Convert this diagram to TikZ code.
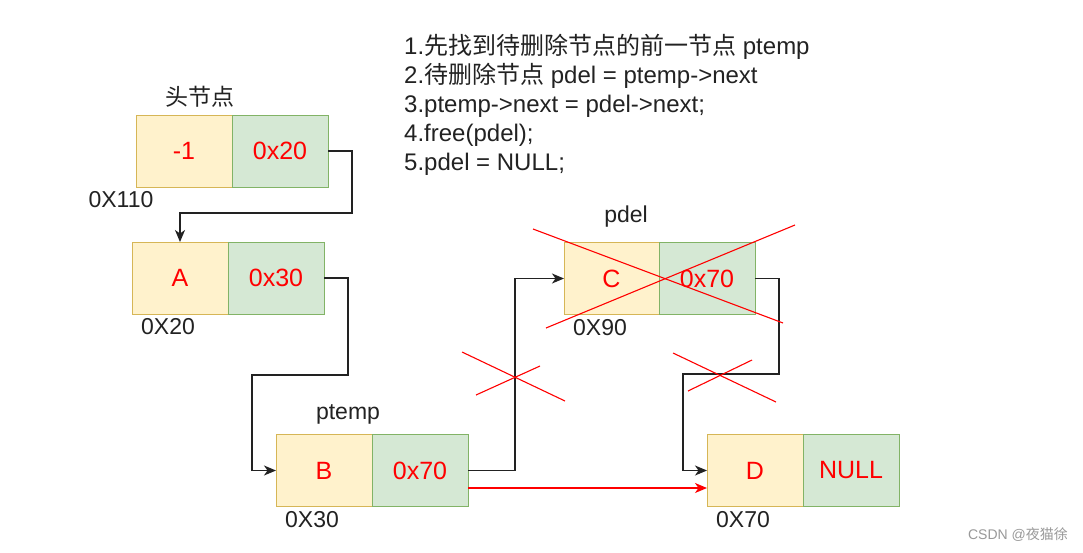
\documentclass[tikz,border=0pt]{standalone}
\usepackage{fontspec}
\setmainfont{Liberation Sans}
\newfontfamily\cjk{Noto Sans CJK SC}
\usetikzlibrary{arrows.meta,calc}
\definecolor{yfill}{HTML}{FFF2CC}
\definecolor{ystroke}{HTML}{D6B656}
\definecolor{gfill}{HTML}{D5E8D4}
\definecolor{gstroke}{HTML}{82B366}
\definecolor{ink}{HTML}{222222}
\begin{document}
\begin{tikzpicture}[x=1pt,y=-1pt,
  cellbase/.style={draw, minimum width=96pt, minimum height=72pt, inner sep=0pt, outer sep=0pt, line width=1pt, font=\fontsize{25}{30}\selectfont, text=red},
  val/.style={cellbase, fill=yfill, draw=ystroke},
  ptr/.style={cellbase, fill=gfill, draw=gstroke},
  lbl/.style={font=\fontsize{23}{27}\selectfont, text=ink, inner sep=0pt},
  note/.style={font=\fontsize{24}{29}\selectfont, text=ink, inner sep=0pt, anchor=base west},
  link/.style={draw=ink, line width=1.3pt, -{Stealth[length=12pt,width=10pt,inset=3.5pt]}},
  redlink/.style={draw=red, line width=1.2pt, -{Stealth[length=12pt,width=10pt,inset=3.5pt]}},
  cross/.style={draw=red, line width=1.1pt}]
\useasboundingbox (0,0) rectangle (1083,552);
\fill[white] (0,0) rectangle (1083,552);

% instructions
\node[note] (l1) at (404,54) {1.{\cjk 先找到待删除节点的前一节点} ptemp};
\node[note] (l2) at (404,83) {2.{\cjk 待删除节点} pdel = ptemp->next};
\node[note] (l3) at (404,112) {3.ptemp->next = pdel->next;};
\node[note] (l4) at (404,141) {4.free(pdel);};
\node[note] (l5) at (404,170) {5.pdel = NULL;};

% nodes
\node[val] (h) at (184,151) {-1};
\node[ptr] (hn) at (280,151) {0x20};
\node[val] (a) at (180,278) {A};
\node[ptr] (an) at (276,278) {0x30};
\node[val] (b) at (324,470.5) {B};
\node[ptr] (bn) at (420,470.5) {0x70};
\node[val, minimum width=95pt] (c) at (611.5,278.5) {C};
\node[ptr] (cn) at (707,278.5) {0x70};
\node[val] (d) at (755,470.5) {D};
\node[ptr] (dn) at (851,470.5) {NULL};

% labels
\node[lbl] (th) at (200,97) {\cjk 头节点};
\node[lbl] (ah) at (121,200) {0X110};
\node[lbl] (aa) at (168,327) {0X20};
\node[lbl] (tb) at (348,414) {ptemp};
\node[lbl] (ab) at (312,520) {0X30};
\node[lbl] (tc) at (626,217) {pdel};
\node[lbl] (ac) at (600,328) {0X90};
\node[lbl] (ad) at (743,520) {0X70};

% connectors
\draw[link] (hn.east) -- ++(24,0) -- ++(0,62) -| (a.north);
\draw[link] (an.east) -- ++(24,0) -- ++(0,97) -- ++(-96,0) |- (b.west);
\draw[link] (bn.east) -- ++(47,0) |- (c.west);
\draw[link] (cn.east) -- ++(24,0) -- ++(0,95.5) -- ++(-96,0) |- (d.west);
\draw[redlink] ($(bn.east)+(0,17.5)$) -- ($(d.west)+(0,17.5)$);

% crosses
\draw[cross] (533,229) -- (783,323);
\draw[cross] (546,328) -- (795,225);
\draw[cross] (462,352) -- (565,401);
\draw[cross] (476,395) -- (540,366);
\draw[cross] (673,353) -- (776,402);
\draw[cross] (688,391) -- (752,360);

% watermark
\node[font=\fontsize{14}{16}\selectfont, text=black!40, inner sep=0pt] (wm) at (1018,535) {CSDN @{\cjk 夜猫徐}};
\end{tikzpicture}
\end{document}
